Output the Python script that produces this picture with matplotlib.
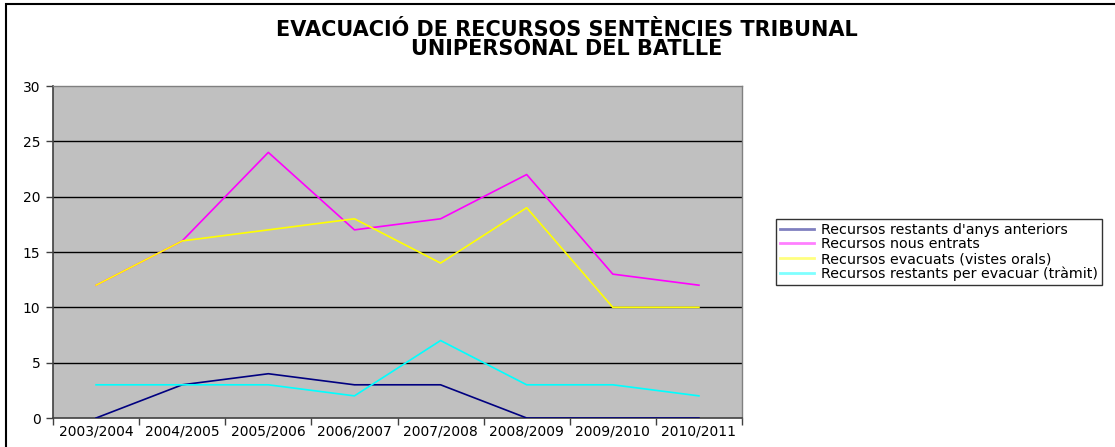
import numpy as np
import matplotlib as mpl
mpl.use('Agg')
mpl.rcParams['font.family'] = ['DejaVu Sans']
import matplotlib.pyplot as plt
from matplotlib.patches import Rectangle

# ---------------------------------------------------------------------------
# data
# ---------------------------------------------------------------------------
anys = ['2003/2004', '2004/2005', '2005/2006', '2006/2007',
        '2007/2008', '2008/2009', '2009/2010', '2010/2011']
restants_anteriors = [0, 3, 4, 3, 3, 0, 0, 0]
nous_entrats       = [12, 16, 24, 17, 18, 22, 13, 12]
evacuats           = [12, 16, 17, 18, 14, 19, 10, 10]
restants_evacuar   = [3, 3, 3, 2, 7, 3, 3, 2]

noms = ["Recursos restants d'anys anteriors",
        'Recursos nous entrats',
        'Recursos evacuats (vistes orals)',
        'Recursos restants per evacuar (tràmit)']
colors = ['#000080', '#FF00FF', '#FFFF00', '#00FFFF']
yticks = [0, 5, 10, 15, 20, 25, 30]

# ---------------------------------------------------------------------------
W, H = 1115, 447
fig = plt.figure(figsize=(W/100., H/100.), dpi=100, facecolor='w')
ax = fig.add_axes([53./W, 1-418./H, (742.-53.)/W, (418.-86.)/H])
ax.set_facecolor('#C0C0C0')

x = np.arange(len(anys)) + 0.5
series = [restants_anteriors, nous_entrats, evacuats, restants_evacuar]
lines = []
for vals, col, nom in zip(series, colors, noms):
    l, = ax.plot(x, vals, color=col, lw=1.2, label=nom, zorder=3)
    lines.append(l)

ax.set_xlim(0, len(anys))
ax.set_ylim(0, 30)
ax.set_yticks(yticks)
ax.set_yticklabels([str(v) for v in yticks], fontsize=10)
ax.set_xticks(np.arange(len(anys) + 1))
ax.set_xticklabels([])
ax.set_xticks(x, minor=True)
ax.set_xticklabels(anys, minor=True, fontsize=10)
ax.tick_params(axis='x', which='minor', length=0, pad=5)
ax.tick_params(axis='x', which='major', length=5, width=1, color='#404040', direction='out')
ax.tick_params(axis='y', length=5, width=1, color='#404040', direction='out', pad=4)
for v in yticks[1:-1]:
    ax.axhline(v, color='black', lw=1, zorder=1)
for s in ['left', 'bottom']:
    ax.spines[s].set_color('#404040')
    ax.spines[s].set_linewidth(1.2)
for s in ['top', 'right']:
    ax.spines[s].set_color('#808080')
    ax.spines[s].set_linewidth(1)

fig.text(567./W, 1-30./H, 'EVACUACIÓ DE RECURSOS SENTÈNCIES TRIBUNAL',
         ha='center', va='center', fontsize=15, fontweight='bold')
fig.text(567./W, 1-49./H, 'UNIPERSONAL DEL BATLLE',
         ha='center', va='center', fontsize=15, fontweight='bold')

leg = fig.legend(handles=lines, loc='upper left',
                 bbox_to_anchor=(776./W, 1-219./H), bbox_transform=fig.transFigure,
                 fontsize=10.3, frameon=True, fancybox=False, edgecolor='black',
                 handlelength=2.4, handletextpad=0.5, borderpad=0.25,
                 labelspacing=0.05, borderaxespad=0)
leg.get_frame().set_linewidth(1)
for h in leg.legend_handles:
    h.set_alpha(0.5)
    h.set_linewidth(2)

# outer frame
fig.patches.append(Rectangle((6./W, -0.1), 1.2, 1-4./H + 0.1, transform=fig.transFigure,
                             fill=False, edgecolor='black', lw=1.5))

plt.savefig('out.png', dpi=100, facecolor='w')
